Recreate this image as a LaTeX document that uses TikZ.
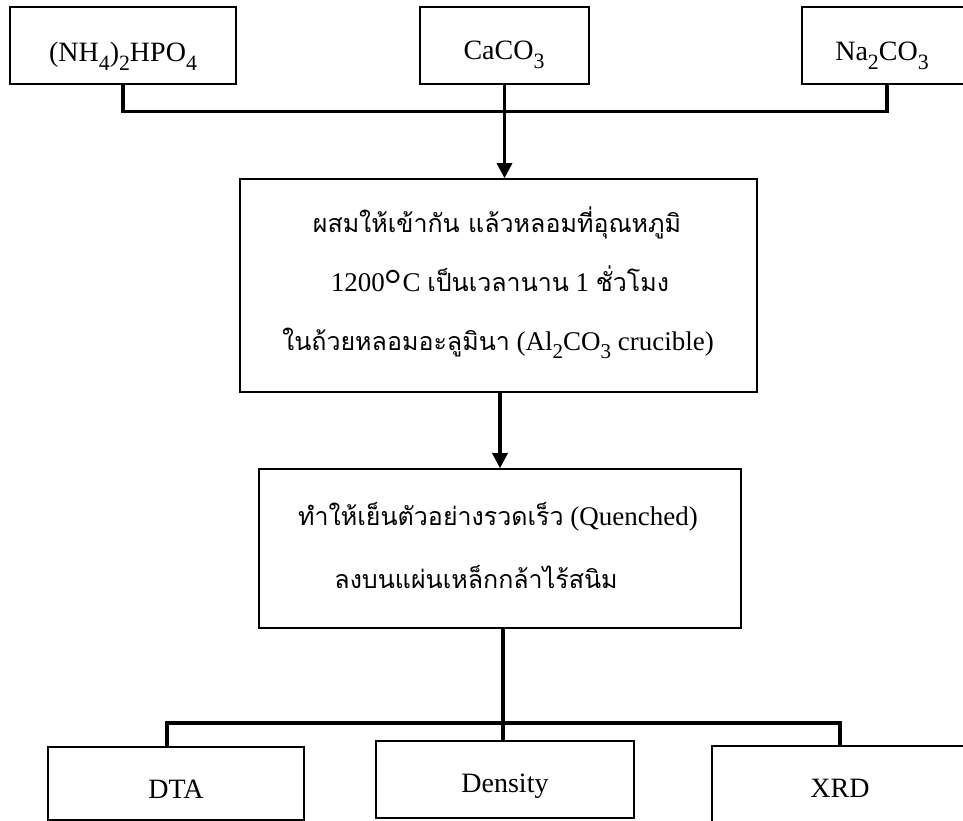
\documentclass[tikz,border=0pt]{standalone}
\usepackage{fontspec}
\usepackage{graphicx}
\setmainfont{Liberation Serif}
\newfontfamily\thai[Script=Thai]{Loma}
\usetikzlibrary{arrows.meta}
\newcommand{\degsym}{{\fontsize{44}{44}\selectfont\raisebox{-8pt}{°}}}
\newcommand{\sbs}[1]{\raisebox{-0.3em}{\scalebox{0.78}{#1}}}
\begin{document}
\begin{tikzpicture}[x=1pt,y=-1pt,
  box/.style={draw, line width=1.6pt, inner sep=0pt, rectangle},
  conn/.style={line width=3.2pt},
  arr/.style={conn, -{Triangle[length=15pt,width=15pt]}},
  lbltop/.style={anchor=base, inner sep=0pt, font=\fontsize{28}{30}\selectfont},
  lblbot/.style={anchor=base, inner sep=0pt, font=\fontsize{28}{30}\selectfont},
  lblmid/.style={anchor=base, inner sep=0pt, font=\fontsize{27}{30}\selectfont},
  th/.style={font=\fontsize{25}{30}\selectfont\thai}
]
\useasboundingbox (0,0) rectangle (963,821);
\clip (0,0) rectangle (963,821);
% top boxes
\node[box, minimum width=226pt, minimum height=77pt] (b1) at (123,45.5) {};
\node[box, minimum width=169pt, minimum height=77pt] (b2) at (504.5,45.5) {};
\node[box, minimum width=170pt, minimum height=77pt] (b3) at (887,45.5) {};
\node[lbltop] (t1) at (123,62) {(NH\sbs{4})\sbs{2}HPO\sbs{4}};
\node[lbltop] (t2) at (504,60) {CaCO\sbs{3}};
\node[lbltop] (t3) at (882,61) {Na\sbs{2}CO\sbs{3}};
% melt box
\node[box, minimum width=517pt, minimum height=213pt] (b4) at (498.5,285.5) {};
\node[lblmid] (m1) at (497,232) {{\fontsize{25}{30}\selectfont\thai ผสมให้เข้ากัน แล้วหลอมที่อุณหภูมิ}};
\node[lblmid] (m2) at (500,291) {1200\degsym C {\fontsize{25}{30}\selectfont\thai เป็นเวลานาน} 1 {\fontsize{25}{30}\selectfont\thai ชั่วโมง}};
\node[lblmid] (m3) at (498,350) {{\fontsize{25}{30}\selectfont\thai ในถ้วยหลอมอะลูมินา} (Al\sbs{2}CO\sbs{3} crucible)};
% quench box
\node[box, minimum width=482pt, minimum height=159pt] (b5) at (500,548.5) {};
\node[lblmid] (q1) at (498,525) {{\fontsize{25}{30}\selectfont\thai ทำให้เย็นตัวอย่างรวดเร็ว} (Quenched)};
\node[lblmid] (q2) at (476,588) {{\fontsize{25}{30}\selectfont\thai ลงบนแผ่นเหล็กกล้าไร้สนิม}};
% bottom boxes
\node[box, minimum width=256pt, minimum height=73pt] (dta) at (176,783.5) {};
\node[box, minimum width=258pt, minimum height=77pt] (den) at (505,779.5) {};
\node[box, minimum width=256pt, minimum height=80pt] (xrd) at (840,786) {};
\node[lblbot] (d1) at (176,798) {DTA};
\node[lblbot] (d2) at (505,792) {Density};
\node[lblbot] (d3) at (840,797) {XRD};
% connectors
\draw[conn] (b1.south) -- ++(0,27) -| (b3.south);
\draw[arr] (b2.south) -- (b2.south |- b4.north);
\draw[arr] (b5.north |- b4.south) -- (b5.north);
\coordinate (jc) at (503,723);
\coordinate (jd) at (167,723);
\coordinate (jx) at (840,723);
\draw[conn] (jc |- b5.south) -- (jc |- den.north);
\draw[conn] (jd |- dta.north) -- (jd) -- (jx) -- (jx |- xrd.north);
\end{tikzpicture}
\end{document}
